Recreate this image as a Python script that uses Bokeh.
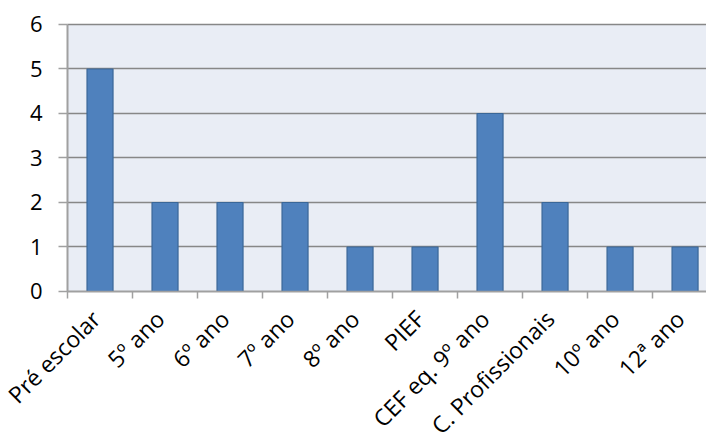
import math

from bokeh.embed import file_html
from bokeh.models import BoxAnnotation, FixedTicker, Range1d
from bokeh.plotting import figure
from bokeh.resources import INLINE

categories = ["Pré escolar", "5º ano", "6º ano", "7º ano", "8º ano", "PIEF",
              "CEF eq. 9º ano", "C. Profissionais", "10º ano", "12ª ano"]
counts = [5, 2, 2, 2, 1, 1, 4, 2, 1, 1]
y_ticks = [0, 1, 2, 3, 4, 5, 6]

FONT = "Open Sans"
AXIS_GRAY = "#A0A0A0"
GRID_GRAY = "#878787"

# one unit per category; bars sit at the centre of each slot
centers = [i + 0.5 for i in range(len(categories))]
edges = list(range(len(categories) + 1))
# slanted names hang from a point just left of each slot centre
label_anchor = [c - 0.08 for c in centers]

# the frame fills the whole canvas so the axes (pinned at 0) have room
# for their labels; the shaded plot area covers only the 0..6 band
p = figure(width=706, height=441, output_backend="svg", toolbar_location=None,
           x_range=Range1d(-1.031, 9.83), y_range=Range1d(-3.371, 6.539),
           min_border_left=0, min_border_top=0, min_border_bottom=0,
           min_border_right=0)

p.background_fill_color = "white"
p.border_fill_color = "white"
p.outline_line_color = None

area = BoxAnnotation(left=edges[0], bottom=y_ticks[0], top=y_ticks[-1],
                     fill_color="#E9EDF5", fill_alpha=1, line_color=None,
                     level="image")
p.add_layout(area)

p.vbar(x=centers, top=counts, bottom=0, width=0.4,
       fill_color="#4F81BD", line_color="#3A6798", line_width=1.2)

# x axis at zero: names below each slot, tick marks at slot boundaries
xa = p.xaxis[0]
xa.fixed_location = 0
xa.bounds = (edges[0], edges[-1])
xa.ticker = FixedTicker(ticks=label_anchor, minor_ticks=edges)
xa.major_label_overrides = {a: name for a, name in zip(label_anchor, categories)}
xa.major_label_orientation = math.pi / 4
xa.major_tick_line_color = None
xa.minor_tick_in = 0
xa.minor_tick_out = 7
xa.minor_tick_line_color = AXIS_GRAY
xa.minor_tick_line_width = 1.5
xa.axis_line_color = AXIS_GRAY
xa.axis_line_width = 1.5
xa.major_label_standoff = 16
xa.major_label_text_font = FONT
xa.major_label_text_font_size = "23px"
xa.major_label_text_color = "black"

# y axis at the left edge of the plot area
ya = p.yaxis[0]
ya.fixed_location = edges[0]
ya.ticker = FixedTicker(ticks=y_ticks)
ya.bounds = (y_ticks[0], y_ticks[-1])
ya.major_tick_in = 0
ya.major_tick_out = 9
ya.minor_tick_line_color = None
ya.major_tick_line_color = AXIS_GRAY
ya.major_tick_line_width = 1.5
ya.axis_line_color = AXIS_GRAY
ya.axis_line_width = 2
ya.major_label_standoff = 16
ya.major_label_text_font = FONT
ya.major_label_text_font_size = "22px"
ya.major_label_text_color = "black"

p.xgrid.visible = False
p.ygrid.ticker = FixedTicker(ticks=y_ticks)
p.ygrid.cross_bounds = (edges[0], edges[-1])
p.ygrid.grid_line_color = GRID_GRAY
p.ygrid.grid_line_width = 1.5

open("out.html", "w").write(file_html(p, INLINE))
